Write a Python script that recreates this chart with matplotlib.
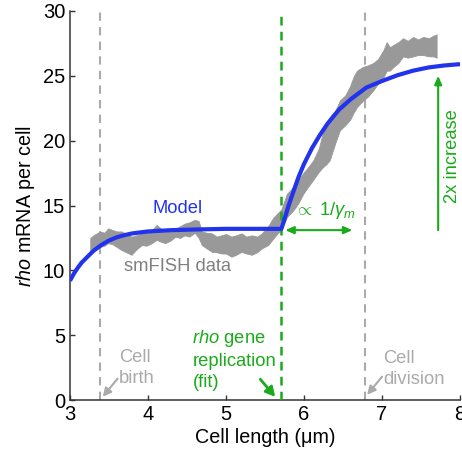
import matplotlib
matplotlib.use("Agg")
import matplotlib.pyplot as plt

plt.rcParams['font.family'] = ['Liberation Sans', 'DejaVu Sans']
plt.rcParams['mathtext.fontset'] = 'custom'
plt.rcParams['mathtext.rm'] = 'Liberation Sans'
plt.rcParams['mathtext.it'] = 'Liberation Sans:italic'
plt.rcParams['mathtext.bf'] = 'Liberation Sans:bold'

# ---- data ----
band_x = [3.26, 3.30, 3.385, 3.44, 3.49, 3.55, 3.60, 3.66, 3.72, 3.79,
          3.85, 3.92, 3.98, 4.05, 4.11, 4.17, 4.22, 4.29, 4.35, 4.41,
          4.47, 4.53, 4.60, 4.65, 4.69, 4.75, 4.82, 4.88, 4.94, 5.00,
          5.07, 5.13, 5.20, 5.26, 5.33, 5.40, 5.46, 5.54, 5.60, 5.66,
          5.71, 5.78, 5.86, 5.93, 5.99, 6.06, 6.12, 6.19, 6.25, 6.29,
          6.33, 6.40, 6.46, 6.53, 6.59, 6.64, 6.68, 6.76, 6.82, 6.89,
          6.95, 7.02, 7.06, 7.10, 7.15, 7.21, 7.27, 7.33, 7.40, 7.46,
          7.53, 7.60, 7.66, 7.70]
band_upper = [12.5, 12.7, 13.0, 12.9, 13.24, 13.1, 13.0, 13.0, 12.8, 12.6,
              12.7, 12.85, 13.0, 13.1, 13.5, 13.2, 13.1, 13.0, 13.2, 13.4,
              13.6, 13.7, 13.9, 13.8, 13.0, 12.9, 12.85, 12.6, 12.7, 12.8,
              12.6, 12.7, 12.85, 12.6, 12.7, 12.6, 12.85, 13.4, 14.0, 14.4,
              14.7, 15.9, 16.4, 17.0, 17.5, 18.0, 18.5, 19.4, 20.8, 21.0,
              21.8, 22.3, 23.1, 23.5, 24.2, 25.0, 25.4, 25.7, 25.8, 26.0,
              26.3, 27.0, 27.6, 27.2, 27.4, 27.6, 27.9, 27.7, 28.0, 27.8,
              28.0, 27.9, 28.1, 28.2]
band_lower = [11.5, 11.6, 11.8, 11.9, 12.1, 12.0, 11.8, 11.57, 11.4, 11.2,
              11.6, 11.95, 11.9, 12.1, 12.35, 12.2, 12.1, 12.3, 12.6, 12.5,
              12.7, 12.6, 12.9, 12.5, 11.95, 11.7, 11.43, 11.4, 11.3, 11.3,
              11.05, 11.2, 11.43, 11.3, 11.2, 11.4, 11.7, 11.95, 12.4, 12.85,
              13.1, 14.1, 14.6, 15.2, 15.9, 16.5, 17.0, 17.6, 18.0, 18.2,
              18.5, 19.8, 20.8, 21.2, 21.6, 22.2, 22.6, 23.1, 23.4, 23.9,
              24.4, 24.9, 25.4, 25.4, 25.7, 26.0, 26.5, 26.4, 26.5, 26.6,
              26.6, 26.5, 26.5, 26.4]

model_x = [3.0, 3.05, 3.1, 3.15, 3.2, 3.3, 3.4, 3.5, 3.6, 3.7, 3.8, 4.0, 4.3,
           4.6, 5.0, 5.71, 5.75, 5.8, 5.86, 5.93, 6.0, 6.1, 6.2, 6.3, 6.45,
           6.6, 6.8, 7.0, 7.2, 7.4, 7.6, 7.8, 8.0]
model_y = [9.2, 9.75, 10.2, 10.6, 10.9, 11.5, 11.95, 12.3, 12.55, 12.72, 12.85,
           13.0, 13.1, 13.15, 13.2, 13.2, 13.95, 14.95, 16.0, 17.2, 18.2, 19.4,
           20.4, 21.3, 22.4, 23.2, 24.1, 24.6, 25.05, 25.4, 25.65, 25.8, 25.9]

cell_birth_x = 3.385
cell_division_x = 6.78
replication_x = 5.71

x_ticks = [3, 4, 5, 6, 7, 8]
y_ticks = [0, 5, 10, 15, 20, 25, 30]

# ---- figure ----
GREEN = '#1aaa1a'
BLUE = '#2233ee'
LGRAY = '#aaaaaa'
BAND = '#999999'

fig = plt.figure(figsize=(4.62, 4.58), dpi=100)
ax = fig.add_axes([0.1515, 0.1266, 0.8442, 0.8494])

ax.fill_between(band_x, band_lower, band_upper, color=BAND, linewidth=0.6,
                edgecolor=BAND, zorder=2)

ax.plot([cell_birth_x, cell_birth_x], [0, 30], color=LGRAY, lw=1.5,
        dashes=(4, 3), zorder=1)
ax.plot([cell_division_x, cell_division_x], [0, 30], color=LGRAY, lw=1.5,
        dashes=(4, 3), zorder=1)
ax.plot([replication_x, replication_x], [0, 30], color=GREEN, lw=1.8,
        dashes=(3.5, 2.5), zorder=3)

ax.plot(model_x, model_y, color=BLUE, lw=3.0, solid_capstyle='butt',
        solid_joinstyle='round', zorder=4)

fs = 13.2
ax.text(4.385, 14.8, 'Model', color=BLUE, fontsize=fs, ha='center', va='center')
ax.text(4.378, 10.28, 'smFISH data', color='#808080', fontsize=fs,
        ha='center', va='center')

ax.text(3.63, 2.45, 'Cell\nbirth', color=LGRAY, fontsize=fs, ha='left',
        va='center', linespacing=1.3)
ax.annotate('', xy=(3.42, 0.25), xytext=(3.61, 1.65),
            arrowprops=dict(arrowstyle='-|>,head_length=0.5,head_width=0.25',
                            color=LGRAY, lw=1.5, shrinkA=0, shrinkB=0))

ax.text(7.01, 2.4, 'Cell\ndivision', color=LGRAY, fontsize=fs, ha='left',
        va='center', linespacing=1.3)
ax.annotate('', xy=(6.81, 0.4), xytext=(7.0, 1.8),
            arrowprops=dict(arrowstyle='-|>,head_length=0.5,head_width=0.25',
                            color=LGRAY, lw=1.5, shrinkA=0, shrinkB=0))

ax.text(4.57, 3.15, '$\\it{rho}$ gene\nreplication\n(fit)', color=GREEN,
        fontsize=fs, ha='left', va='center', linespacing=1.3)
ax.annotate('', xy=(5.63, 0.25), xytext=(5.44, 1.6),
            arrowprops=dict(arrowstyle='-|>,head_length=0.55,head_width=0.3',
                            color=GREEN, lw=2.0, shrinkA=0, shrinkB=0))

ax.text(5.87, 14.6, '$\\propto$ 1/$\\gamma_m$', color=GREEN, fontsize=fs,
        ha='left', va='center')
ax.annotate('', xy=(5.76, 13.1), xytext=(6.62, 13.1),
            arrowprops=dict(arrowstyle='<|-|>,head_length=0.5,head_width=0.22',
                            color=GREEN, lw=1.5, shrinkA=0, shrinkB=0))

ax.annotate('', xy=(7.72, 25.0), xytext=(7.72, 13.1),
            arrowprops=dict(arrowstyle='-|>,head_length=0.5,head_width=0.22',
                            color=GREEN, lw=1.5, shrinkA=0, shrinkB=0))
ax.text(7.9, 18.8, '2x increase', color=GREEN, fontsize=fs, rotation=90,
        ha='center', va='center')

ax.set_xlim(3, 8)
ax.set_ylim(0, 30)
ax.set_xticks(x_ticks)
ax.set_yticks(y_ticks)
ax.set_xticklabels([str(t) for t in x_ticks])
ax.set_yticklabels([str(t) for t in y_ticks])

for s in ['top', 'right']:
    ax.spines[s].set_visible(False)
for s in ['left', 'bottom']:
    ax.spines[s].set_color('#333333')
    ax.spines[s].set_linewidth(1.1)
ax.tick_params(direction='in', length=3.5, width=1.0, color='#333333',
               labelsize=14.5, pad=3.5)
ax.set_xlabel('Cell length (μm)', fontsize=14.2, labelpad=3)
ax.set_ylabel('$\\it{rho}$ mRNA per cell', fontsize=14.2, labelpad=4)

fig.savefig('out.png', dpi=100)
